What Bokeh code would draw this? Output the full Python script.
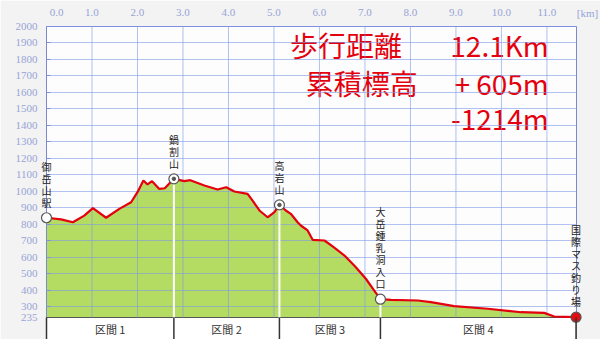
from bokeh.plotting import figure
from bokeh.models import FixedTicker, Label, LinearAxis, BoxAnnotation
from bokeh.embed import file_html
from bokeh.resources import INLINE
from bokeh.core.properties import value

# ---- data ----
km = [0.0, 0.32, 0.58, 0.83, 1.02, 1.31, 1.60, 1.86, 2.00, 2.13, 2.22, 2.32, 2.48, 2.60,
      2.80, 3.03, 3.16, 3.47, 3.76, 3.95, 4.13, 4.42, 4.53, 4.68, 4.86, 5.01, 5.12,
      5.26, 5.37, 5.52, 5.59, 5.74, 5.85, 6.11, 6.29, 6.55, 6.80, 7.02, 7.20, 7.34,
      7.57, 8.16, 8.45, 8.96, 9.70, 10.43, 10.94, 11.16, 11.64]
elev = [840, 830, 813, 853, 898, 840, 894, 934, 995, 1066, 1042, 1062, 1015, 1019,
        1076, 1062, 1068, 1036, 1011, 1025, 999, 985, 944, 884, 843, 874, 918,
        884, 864, 813, 793, 763, 706, 702, 666, 611, 540, 470, 399, 346,
        342, 338, 328, 304, 288, 267, 263, 241, 237]

st_names = ["御岳山駅", "鍋割山", "高岩山", "大岳鍾乳洞入口", "国際マス釣り場"]
st_km = [0.0, 2.80, 5.12, 7.34, 11.64]
st_elev = [840, 1076, 918, 346, 237]

sec_labels = ["区間 1", "区間 2", "区間 3", "区間 4"]

X_MAX = 11.65
x_ticks = [0, 1, 2, 3, 4, 5, 6, 7, 8, 9, 10, 11]
x_tick_labels = ["0.0", "1.0", "2.0", "3.0", "4.0", "5.0", "6.0", "7.0", "8.0", "9.0", "10.0", "11.0"]
x_unit = "[km]"
y_ticks = [235, 300, 400, 500, 600, 700, 800, 900, 1000, 1100, 1200, 1300, 1400,
           1500, 1600, 1700, 1800, 1900, 2000]

Y_MIN, Y_MAX = 235, 2000
Y_LOW = Y_MIN - 22 / (291 / (Y_MAX - Y_MIN))   # room for the section strip (22px)

BG = "#f3f3f3"
BLUE = "#7a88d0"
RED = "#e4000c"
TICKLBL = "#97a3d6"
GRIDC = "#7f9ae8"
JP = "Noto Sans CJK JP"
SERIF = "Liberation Serif"

p = figure(width=600, height=339, x_range=(0, X_MAX), y_range=(Y_LOW, Y_MAX),
           x_axis_location="above", output_backend="svg", toolbar_location=None,
           min_border_left=46, min_border_right=24, min_border_top=26, min_border_bottom=0)
p.background_fill_color = "#fdfdfd"
p.border_fill_color = BG
p.outline_line_color = None
p.grid.visible = False

p.xaxis.ticker = FixedTicker(ticks=x_ticks[1:])
p.xaxis.major_label_overrides = {float(t): l for t, l in zip(x_ticks, x_tick_labels)}
p.xaxis.axis_line_color = BLUE
p.xaxis.major_tick_line_color = None
p.xaxis.minor_tick_line_color = None
p.xaxis.major_label_standoff = 5
p.xaxis.major_label_text_font = SERIF
p.xaxis.major_label_text_font_size = "11px"
p.xaxis.major_label_text_color = TICKLBL

p.yaxis.ticker = FixedTicker(ticks=y_ticks)
p.yaxis.bounds = (Y_MIN, Y_MAX)
p.yaxis.axis_line_color = BLUE
p.yaxis.major_tick_in = 4
p.yaxis.major_tick_out = 0
p.yaxis.major_tick_line_color = BLUE
p.yaxis.minor_tick_line_color = None
p.yaxis.major_label_standoff = 9
p.yaxis.major_label_text_font = SERIF
p.yaxis.major_label_text_font_size = "11px"
p.yaxis.major_label_text_color = TICKLBL

p.add_layout(LinearAxis(ticker=FixedTicker(ticks=[]), bounds=(Y_MIN, Y_MAX),
                        axis_line_color=BLUE, major_tick_line_color=None,
                        minor_tick_line_color=None), "right")

# first tick label and unit label, drawn beside the top axis
p.text(x=[x_ticks[0], X_MAX], y=[Y_MAX, Y_MAX], text=[x_tick_labels[0], x_unit],
       x_offset=[10, 11], y_offset=-14, text_align="center", text_baseline="middle",
       text_font=value(SERIF), text_font_size="11px", text_color=TICKLBL, level="overlay")

# profile fill
p.varea(x=km, y1=Y_MIN, y2=elev, fill_color="#b4db62")

# section strip background
p.add_layout(BoxAnnotation(top=Y_MIN, fill_color="white", fill_alpha=1.0,
                           line_color="#555555", line_alpha=1.0, line_width=1,
                           level="annotation"))

# grid lines at the tick positions, drawn over the fill as in the original
p.hspan(y=y_ticks[1:], line_color=GRIDC, line_alpha=0.6, line_width=1, level="overlay")
p.segment(x0=x_ticks[1:], y0=Y_MIN, x1=x_ticks[1:], y1=Y_MAX,
          line_color=GRIDC, line_alpha=0.6, line_width=1, level="overlay")

p.segment(x0=st_km[1:4], y0=Y_MIN, x1=st_km[1:4], y1=st_elev[1:4],
          line_color="white", line_width=2, level="overlay")
p.line(km, elev, line_color=RED, line_width=2.2, level="overlay")

# stations
p.scatter(st_km, st_elev, size=10, fill_color=["white", "white", "white", "white", "#e01010"],
          line_color="#555555", line_width=1.2, level="overlay")
p.scatter(st_km[1:3], st_elev[1:3], size=3.5, fill_color="#555555", line_color="#555555",
          level="overlay")
p.text(x=st_km, y=st_elev, text=["\n".join(n) for n in st_names], text_align="center",
       text_baseline="bottom", y_offset=-8,
       text_font=value(JP), text_font_size="10px",
       text_line_height=0.8, text_color="#222222", level="overlay")

# section strip dividers and labels
p.segment(x0=st_km, y0=Y_LOW, x1=st_km, y1=Y_MIN, line_color="#333333", line_width=1.5,
          level="overlay")
mids = [(a + b) / 2 for a, b in zip(st_km[:-1], st_km[1:])]
p.text(x=mids, y=(Y_LOW + Y_MIN) / 2, text=sec_labels, text_align="center",
       text_baseline="middle", text_font=value(JP), text_font_size="11px",
       text_color="#333333", level="overlay")

# summary texts
summ = dict(text_font=JP, text_font_size="28px", text_color=RED, text_baseline="middle")
p.add_layout(Label(x=5.35, y=1885, text="歩行距離", text_align="left", **summ))
p.add_layout(Label(x=11.04, y=1885, text="12.1Km", text_align="right", **summ))
p.add_layout(Label(x=5.70, y=1660, text="累積標高", text_align="left", **summ))
p.add_layout(Label(x=11.04, y=1660, text="+ 605m", text_align="right", **summ))
p.add_layout(Label(x=11.04, y=1448, text="-1214m", text_align="right", **summ))

open("out.html", "w").write(file_html(p, INLINE))
